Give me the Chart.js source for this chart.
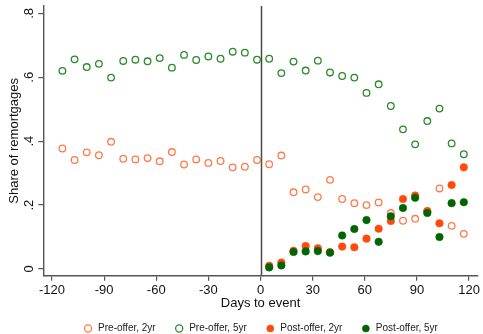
<!DOCTYPE html>
<html>
<head>
<meta charset="utf-8">
<script src="https://cdn.jsdelivr.net/npm/chart.js@4.4.1/dist/chart.umd.min.js"></script>
<style>
    html, body { margin: 0; padding: 0; background: #fff; }
</style>
</head>
<body>
<canvas id="remortgage-chart" width="483" height="334"></canvas>
<script>
// days relative to the event (weekly buckets)
const preDays = [-114, -107, -100, -93, -86, -79, -72, -65, -58, -51, -44, -37, -30, -23, -16, -9, -2,
    5, 12, 19, 26, 33, 40, 47, 54, 61, 68, 75, 82, 89, 96, 103, 110, 117];
const postDays = [5, 12, 19, 26, 33, 40, 47, 54, 61, 68, 75, 82, 89, 96, 103, 110, 117];

const pre2yr = [0.377, 0.341, 0.365, 0.356, 0.398, 0.345, 0.343, 0.347, 0.337, 0.366, 0.327, 0.343, 0.332, 0.338, 0.318, 0.320, 0.341,
    0.328, 0.355, 0.240, 0.249, 0.225, 0.279, 0.219, 0.206, 0.200, 0.208, 0.175, 0.151, 0.157, 0.180, 0.252, 0.135, 0.110];
const pre5yr = [0.620, 0.656, 0.632, 0.642, 0.599, 0.651, 0.655, 0.650, 0.660, 0.630, 0.670, 0.654, 0.665, 0.658, 0.680, 0.677, 0.655,
    0.658, 0.613, 0.649, 0.621, 0.652, 0.615, 0.604, 0.599, 0.551, 0.578, 0.510, 0.437, 0.390, 0.463, 0.502, 0.393, 0.359];
const post2yr = [0.010, 0.020, 0.057, 0.072, 0.065, 0.053, 0.070, 0.068, 0.095, 0.126, 0.150, 0.219, 0.230, 0.181, 0.143, 0.263, 0.318];
const post5yr = [0.005, 0.011, 0.053, 0.055, 0.056, 0.051, 0.105, 0.125, 0.153, 0.085, 0.165, 0.191, 0.223, 0.175, 0.100, 0.206, 0.209];

const xTicks = [-120, -90, -60, -30, 0, 30, 60, 90, 120];
const yTicks = [0, 0.2, 0.4, 0.6, 0.8];

const FONT = "'Liberation Sans', Arial, Helvetica, sans-serif";
const ORANGE_HOLLOW = '#ff7a4a';
const ORANGE = '#ff4a0a';
const GREEN_HOLLOW = '#2a8a2a';
const GREEN = '#006400';

function toPoints(days, values) {
    return days.map((d, i) => ({ x: d, y: values[i] }));
}

function formatShare(value) {
    if (value === 0) return '0';
    return String(Math.round(value * 10) / 10).replace(/^0\./, '.');
}

// vertical reference line at day 0
const eventLine = {
    id: 'eventLine',
    beforeDatasetsDraw(chart) {
        const { ctx, chartArea, scales } = chart;
        const x = Math.round(scales.x.getPixelForValue(0)) + 0.5;
        ctx.save();
        ctx.strokeStyle = '#4a4a4a';
        ctx.lineWidth = 1.5;
        ctx.beginPath();
        ctx.moveTo(x, chartArea.top);
        ctx.lineTo(x, chartArea.bottom);
        ctx.stroke();
        ctx.restore();
    }
};

const ctx = document.getElementById('remortgage-chart').getContext('2d');
new Chart(ctx, {
    type: 'scatter',
    data: {
        datasets: [
            {
                label: 'Pre-offer, 2yr',
                data: toPoints(preDays, pre2yr),
                backgroundColor: 'rgba(255,255,255,0)',
                borderColor: ORANGE_HOLLOW,
                borderWidth: 1.3,
                pointRadius: 3.3,
                order: 3
            },
            {
                label: 'Pre-offer, 5yr',
                data: toPoints(preDays, pre5yr),
                backgroundColor: 'rgba(255,255,255,0)',
                borderColor: GREEN_HOLLOW,
                borderWidth: 1.3,
                pointRadius: 3.3,
                order: 2
            },
            {
                label: 'Post-offer, 2yr',
                data: toPoints(postDays, post2yr),
                backgroundColor: ORANGE,
                borderColor: ORANGE,
                borderWidth: 0.5,
                pointRadius: 3.8,
                order: 1
            },
            {
                label: 'Post-offer, 5yr',
                data: toPoints(postDays, post5yr),
                backgroundColor: GREEN,
                borderColor: GREEN,
                borderWidth: 0.5,
                pointRadius: 3.8,
                order: 0
            }
        ]
    },
    options: {
        responsive: false,
        animation: false,
        events: [],
        layout: { padding: { top: 6, right: 2.6, bottom: 0, left: 0 } },
        plugins: {
            tooltip: { enabled: false },
            legend: {
                position: 'bottom',
                fullSize: false,
                maxHeight: 29,
                labels: {
                    usePointStyle: true,
                    boxWidth: 10,
                    boxHeight: 5,
                    padding: 18.5,
                    color: '#222',
                    font: { family: FONT, size: 10 },
                    sort: (a, b) => a.datasetIndex - b.datasetIndex
                }
            }
        },
        scales: {
            x: {
                type: 'linear',
                min: -125,
                max: 125,
                afterBuildTicks: (scale) => { scale.ticks = xTicks.map(v => ({ value: v })); },
                afterFit: (scale) => {
                    scale.height = 29.3;
                    scale.paddingLeft = 0;
                    scale.paddingRight = 0;
                },
                grid: { display: true, drawOnChartArea: false, drawTicks: true, tickLength: 5, color: '#555', lineWidth: 1.2 },
                border: { display: true, color: '#555', width: 1.4 },
                ticks: {
                    padding: 2,
                    color: '#111',
                    maxRotation: 0,
                    autoSkip: false,
                    font: { family: FONT, size: 13 }
                },
                title: {
                    display: true,
                    text: 'Days to event',
                    color: '#111',
                    padding: { top: 0, bottom: -6 },
                    font: { family: FONT, size: 13 }
                }
            },
            y: {
                type: 'linear',
                min: -0.021,
                max: 0.823,
                afterBuildTicks: (scale) => { scale.ticks = yTicks.map(v => ({ value: v })); },
                afterFit: (scale) => {
                    scale.width = 43.3;
                    scale.paddingTop = 0;
                    scale.paddingBottom = 0;
                },
                grid: { display: true, drawOnChartArea: false, drawTicks: true, tickLength: 5, color: '#555', lineWidth: 1.2 },
                border: { display: true, color: '#555', width: 1.4 },
                ticks: {
                    padding: 3,
                    color: '#111',
                    minRotation: 90,
                    maxRotation: 90,
                    crossAlign: 'center',
                    autoSkip: false,
                    font: { family: FONT, size: 13 },
                    callback: (value) => formatShare(value)
                },
                title: {
                    display: true,
                    text: 'Share of remortgages',
                    color: '#111',
                    padding: { top: 7, bottom: 0 },
                    font: { family: FONT, size: 13 }
                }
            }
        }
    },
    plugins: [eventLine]
});
</script>
</body>
</html>
